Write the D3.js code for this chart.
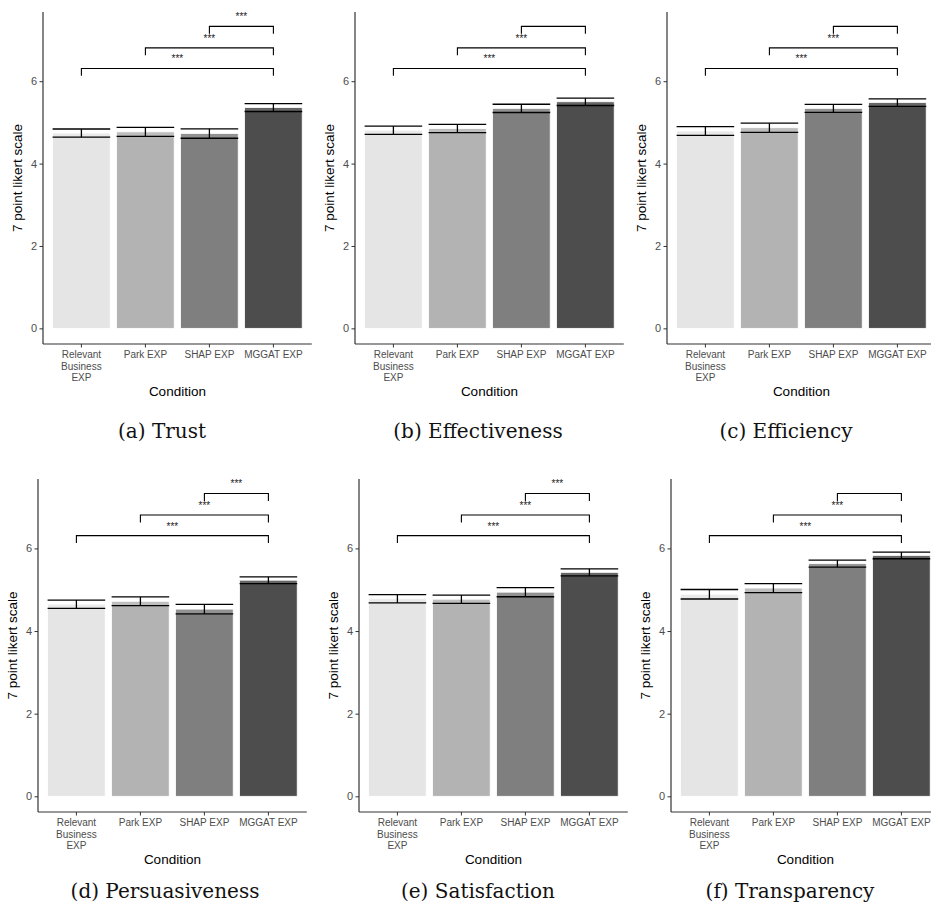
<!DOCTYPE html>
<html>
<head>
<meta charset="utf-8">
<script src="https://cdn.jsdelivr.net/npm/d3@7"></script>
<style>
  body { margin: 0; background: #fff; }
  text { font-family: "Liberation Sans", Arial, sans-serif; }
  .cap { font-family: "DejaVu Serif", serif; }
</style>
</head>
<body>
<svg id="fig" width="931" height="909"></svg>
<script>
// categories and labels
var categories = ["Relevant Business EXP", "Park EXP", "SHAP EXP", "MGGAT EXP"];
var tickLines = [["Relevant", "Business", "EXP"], ["Park EXP"], ["SHAP EXP"], ["MGGAT EXP"]];
var fills = ["#e5e5e5", "#b3b3b3", "#7f7f7f", "#4d4d4d"];
var yTicks = [0, 2, 4, 6];

// means and standard errors
var trustMean = [4.74, 4.77, 4.73, 5.36];
var trustSe = [0.10, 0.11, 0.115, 0.095];
var effectMean = [4.81, 4.85, 5.34, 5.50];
var effectSe = [0.10, 0.10, 0.10, 0.09];
var efficMean = [4.79, 4.87, 5.34, 5.48];
var efficSe = [0.105, 0.11, 0.095, 0.09];
var persuMean = [4.65, 4.72, 4.53, 5.23];
var persuSe = [0.10, 0.105, 0.115, 0.08];
var satisMean = [4.78, 4.77, 4.94, 5.42];
var satisSe = [0.10, 0.10, 0.11, 0.085];
var transMean = [4.89, 5.04, 5.63, 5.83];
var transSe = [0.115, 0.11, 0.085, 0.08];

// significance brackets
var bracketPairs = [[0, 3], [1, 3], [2, 3]];
var bracketY = [6.31, 6.81, 7.33];
var bracketTip = 0.18;
var sigAll = ["***", "***", "***"];
var sigTwo = ["***", "***", ""];

var titles = ["(a) Trust", "(b) Effectiveness", "(c) Efficiency",
              "(d) Persuasiveness", "(e) Satisfaction", "(f) Transparency"];

// panel frames
var panels = [
  {mean: trustMean, se: trustSe, sig: sigAll, ax: 43, top: 12, bottom: 344, capX: 162, capY: 438},
  {mean: effectMean, se: effectSe, sig: sigTwo, ax: 355, top: 12, bottom: 344, capX: 478, capY: 438},
  {mean: efficMean, se: efficSe, sig: sigTwo, ax: 667, top: 12, bottom: 344, capX: 786, capY: 438},
  {mean: persuMean, se: persuSe, sig: sigAll, ax: 38, top: 479, bottom: 812, capX: 165, capY: 898},
  {mean: satisMean, se: satisSe, sig: sigAll, ax: 359, top: 479, bottom: 812, capX: 478, capY: 898},
  {mean: transMean, se: transSe, sig: sigTwo, ax: 671, top: 479, bottom: 812, capX: 790, capY: 898}
];

var svg = d3.select("#fig");
svg.append("rect").attr("width", 931).attr("height", 909).attr("fill", "#fff");

panels.forEach(function (p, k) {
    var x = d3.scaleBand()
        .domain(categories)
        .range([p.ax, p.ax + 268.8])
        .paddingInner(0.1)
        .paddingOuter(0.15);
    var y = d3.scaleLinear().domain([-0.38, 7.68]).range([p.bottom, p.top]);
    var g = svg.append("g");

    var rows = categories.map(function (c, i) {
        return {cat: c, m: p.mean[i], s: p.se[i], fill: fills[i]};
    });

    //--bars--
    g.selectAll(".bar").data(rows).enter().append("rect")
        .attr("x", d => x(d.cat))
        .attr("width", x.bandwidth())
        .attr("y", d => y(d.m))
        .attr("height", d => y(0) - y(d.m))
        .attr("fill", d => d.fill)
        .attr("stroke", "#fff")
        .attr("stroke-width", 0.8);
    // lighter strip between mean and lower bar
    g.selectAll(".band").data(rows).enter().append("rect")
        .attr("x", d => x(d.cat) + 0.4)
        .attr("width", x.bandwidth() - 0.8)
        .attr("y", d => y(d.m) + 0.5)
        .attr("height", d => Math.max(0, y(d.m - d.s) - y(d.m) - 0.5))
        .attr("fill", "#fff")
        .attr("opacity", 0.15);

    //--error bars--
    var eb = g.selectAll(".eb").data(rows).enter().append("g")
        .attr("stroke", "#000").attr("stroke-width", 1.3).attr("fill", "none");
    eb.append("line")
        .attr("x1", d => x(d.cat)).attr("x2", d => x(d.cat) + x.bandwidth())
        .attr("y1", d => y(d.m + d.s)).attr("y2", d => y(d.m + d.s));
    eb.append("line")
        .attr("x1", d => x(d.cat)).attr("x2", d => x(d.cat) + x.bandwidth())
        .attr("y1", d => y(d.m - d.s)).attr("y2", d => y(d.m - d.s));
    eb.append("line")
        .attr("x1", d => x(d.cat) + x.bandwidth() / 2).attr("x2", d => x(d.cat) + x.bandwidth() / 2)
        .attr("y1", d => y(d.m + d.s)).attr("y2", d => y(d.m - d.s));

    //--brackets--
    var cx = i => x(categories[i]) + x.bandwidth() / 2;
    bracketPairs.forEach(function (pr, j) {
        var b = bracketY[j];
        g.append("path")
            .attr("d", d3.line()([
                [cx(pr[0]), y(b - bracketTip)], [cx(pr[0]), y(b)],
                [cx(pr[1]), y(b)], [cx(pr[1]), y(b - bracketTip)]
            ]))
            .attr("fill", "none").attr("stroke", "#000").attr("stroke-width", 1.1);
        if (p.sig[j]) {
            g.append("text")
                .attr("x", (cx(pr[0]) + cx(pr[1])) / 2)
                .attr("y", y(b) - 6)
                .attr("text-anchor", "middle")
                .attr("font-size", 10)
                .attr("fill", "#222")
                .text(p.sig[j]);
        }
    });

    //--axes--
    var yAxis = g.append("g")
        .attr("transform", "translate(" + p.ax + ",0)")
        .call(d3.axisLeft(y).tickValues(yTicks).tickSize(3.5).tickPadding(2.5));
    yAxis.select(".domain").remove();
    yAxis.selectAll("line").attr("stroke", "#333");
    yAxis.selectAll("text").attr("font-size", 11).attr("fill", "#4d4d4d")
        .attr("font-family", "Liberation Sans, Arial, sans-serif");

    var xAxis = g.append("g")
        .attr("transform", "translate(0," + p.bottom + ")")
        .call(d3.axisBottom(x).tickSize(3.5).tickFormat(""));
    xAxis.select(".domain").remove();
    xAxis.selectAll("line").attr("stroke", "#333");
    categories.forEach(function (c, i) {
        var t = g.append("text")
            .attr("x", x(c) + x.bandwidth() / 2)
            .attr("y", p.bottom + 14)
            .attr("text-anchor", "middle")
            .attr("font-size", 10)
            .attr("fill", "#4d4d4d");
        tickLines[i].forEach(function (l, n) {
            t.append("tspan").attr("x", x(c) + x.bandwidth() / 2)
                .attr("dy", n === 0 ? 0 : 11.5).text(l);
        });
    });

    // axis lines
    g.append("line")
        .attr("x1", p.ax).attr("x2", p.ax)
        .attr("y1", p.top).attr("y2", p.bottom)
        .attr("stroke", "#333").attr("stroke-width", 1.2);
    g.append("line")
        .attr("x1", p.ax).attr("x2", p.ax + 268.8)
        .attr("y1", p.bottom).attr("y2", p.bottom)
        .attr("stroke", "#333").attr("stroke-width", 1.2);

    //--axis titles--
    g.append("text")
        .attr("x", p.ax + 134.4)
        .attr("y", p.bottom + 52)
        .attr("text-anchor", "middle")
        .attr("font-size", 13.5)
        .attr("fill", "#000")
        .text("Condition");
    g.append("text")
        .attr("transform", "translate(" + (p.ax - 21) + "," + ((p.top + p.bottom) / 2) + ") rotate(-90)")
        .attr("text-anchor", "middle")
        .attr("font-size", 13.5)
        .attr("fill", "#000")
        .text("7 point likert scale");

    //--caption--
    svg.append("text")
        .attr("class", "cap")
        .attr("x", p.capX)
        .attr("y", p.capY)
        .attr("text-anchor", "middle")
        .attr("font-size", 20)
        .attr("fill", "#111")
        .text(titles[k]);
});
</script>
</body>
</html>
